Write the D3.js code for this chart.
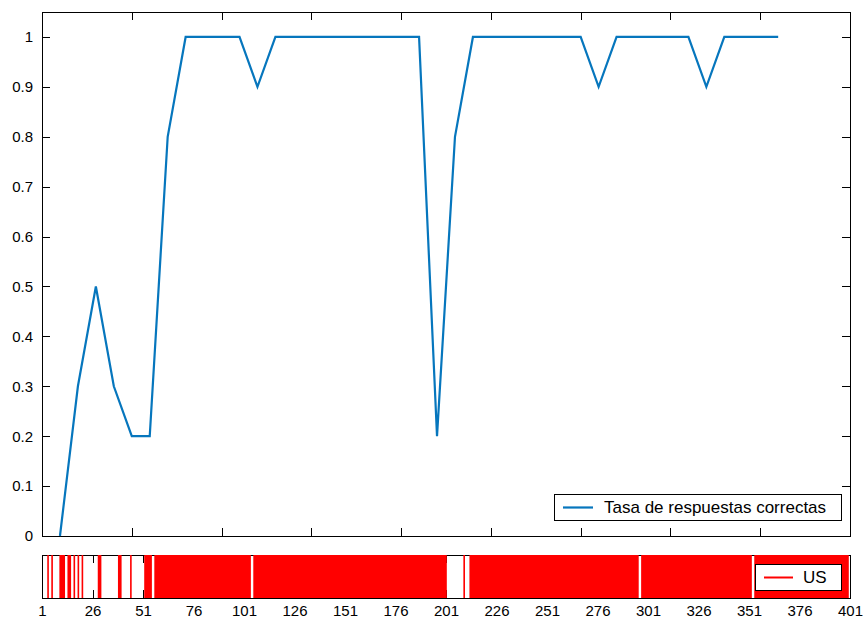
<!DOCTYPE html>
<html>
<head>
<meta charset="utf-8">
<script src="https://cdn.jsdelivr.net/npm/d3@7"></script>
<style>
  body { margin: 0; background: #fff; }
  svg { display: block; font-family: "Liberation Sans", Arial, sans-serif; }
</style>
</head>
<body>
<svg width="863" height="623"></svg>
<script>
// correct response rate per block of 10 trials (block 1..41)
const rates = [0, 0.3, 0.5, 0.3, 0.2, 0.2, 0.8, 1, 1, 1, 1, 0.9,
  1, 1, 1, 1, 1, 1, 1, 1, 1, 0.2, 0.8,
  1, 1, 1, 1, 1, 1, 1, 0.9, 1, 1, 1, 1, 1, 0.9, 1, 1, 1, 1];
const yTicks = [0, 0.1, 0.2, 0.3, 0.4, 0.5, 0.6, 0.7, 0.8, 0.9, 1];
const blockTicks = [0, 5, 10, 15, 20, 25, 30, 35, 40, 45];

// trials with US present, as [first, last] runs
const usRuns = [[4, 4], [6, 6], [10, 12], [14, 15], [17, 17], [19, 19], [21, 21],
  [29, 30], [39, 40], [45, 45], [52, 55], [57, 104], [106, 201], [210, 210],
  [213, 296], [298, 352], [354, 400]];
const trialTicks = [1, 26, 51, 76, 101, 126, 151, 176, 201, 226, 251, 276, 301, 326, 351, 376, 401];

const blue = "#0676bd";
const svg = d3.select("svg");

const left = 42, right = 850;
const top1 = 12, bot1 = 536;
const top2 = 555, bot2 = 598;

let x = d3.scaleLinear().domain([0, 45]).range([left, right]);
let y = d3.scaleLinear().domain([0, 1.05]).range([bot1, top1]);

// ---- top panel ----
let g1 = svg.append("g");
g1.append("rect")
  .attr("x", left).attr("y", top1)
  .attr("width", right - left).attr("height", bot1 - top1)
  .attr("fill", "#fff");

function styleAxis(sel) {
  sel.select(".domain").remove();
  sel.selectAll("line").attr("stroke", "#000").attr("shape-rendering", "crispEdges");
  sel.selectAll("text").attr("fill", "#000").attr("font-size", 15);
}

g1.append("g").attr("transform", `translate(0,${bot1})`)
  .call(d3.axisBottom(x).tickValues(blockTicks).tickSize(-8).tickFormat(""))
  .call(styleAxis);
g1.append("g").attr("transform", `translate(0,${top1})`)
  .call(d3.axisTop(x).tickValues(blockTicks).tickSize(-8).tickFormat(""))
  .call(styleAxis);
g1.append("g").attr("transform", `translate(${left},0)`)
  .call(d3.axisLeft(y).tickValues(yTicks).tickSize(-8).tickPadding(9).tickFormat(d => d))
  .call(styleAxis);
g1.append("g").attr("transform", `translate(${right},0)`)
  .call(d3.axisRight(y).tickValues(yTicks).tickSize(-8).tickFormat(""))
  .call(styleAxis);

g1.append("rect")
  .attr("x", left + 0.5).attr("y", top1 + 0.5)
  .attr("width", right - left).attr("height", bot1 - top1)
  .attr("fill", "none").attr("stroke", "#000");

let line = d3.line()
  .x((d, i) => x(i + 1))
  .y(d => y(d));

g1.append("path")
  .datum(rates)
  .attr("d", line)
  .attr("fill", "none")
  .attr("stroke", blue)
  .attr("stroke-width", 2.2);

// legend
let leg1 = g1.append("g");
leg1.append("rect")
  .attr("x", 554.5).attr("y", 494.5).attr("width", 287).attr("height", 26)
  .attr("fill", "#fff").attr("stroke", "#000");
leg1.append("line")
  .attr("x1", 563).attr("x2", 593).attr("y1", 507.5).attr("y2", 507.5)
  .attr("stroke", blue).attr("stroke-width", 2.2);
leg1.append("text")
  .attr("x", 604).attr("y", 507.5).attr("dy", "0.35em")
  .attr("font-size", 17)
  .text("Tasa de respuestas correctas");

// ---- bottom panel ----
let xt = d3.scaleLinear().domain([1, 401]).range([left, right]);
let g2 = svg.append("g");

g2.append("rect")
  .attr("x", left + 0.5).attr("y", top2 + 0.5)
  .attr("width", right - left).attr("height", bot2 - top2)
  .attr("fill", "#fff").attr("stroke", "#000");

g2.append("g").attr("transform", `translate(0,${top2})`)
  .call(d3.axisTop(xt).tickValues(trialTicks).tickSize(-8).tickFormat(""))
  .call(styleAxis);
g2.append("g").attr("transform", `translate(0,${bot2})`)
  .call(d3.axisBottom(xt).tickValues(trialTicks).tickSize(-8).tickPadding(7))
  .call(styleAxis);

g2.selectAll(".us")
  .data(usRuns)
  .enter().append("rect")
    .classed("us", true)
    .attr("x", d => xt(d[0] - 0.4))
    .attr("width", d => xt(d[1] + 0.4) - xt(d[0] - 0.4))
    .attr("y", top2)
    .attr("height", bot2 - top2)
    .attr("fill", "#ff0000");

g2.append("line")
  .attr("x1", left).attr("x2", right + 1)
  .attr("y1", bot2 + 0.5).attr("y2", bot2 + 0.5)
  .attr("stroke", "#000");

let leg2 = g2.append("g");
leg2.append("rect")
  .attr("x", 755.5).attr("y", 564.5).attr("width", 86).attr("height", 26)
  .attr("fill", "#fff").attr("stroke", "#000");
leg2.append("line")
  .attr("x1", 764).attr("x2", 793).attr("y1", 577.5).attr("y2", 577.5)
  .attr("stroke", "#ff0000").attr("stroke-width", 2);
leg2.append("text")
  .attr("x", 803).attr("y", 577.5).attr("dy", "0.35em")
  .attr("font-size", 17)
  .text("US");
</script>
</body>
</html>
